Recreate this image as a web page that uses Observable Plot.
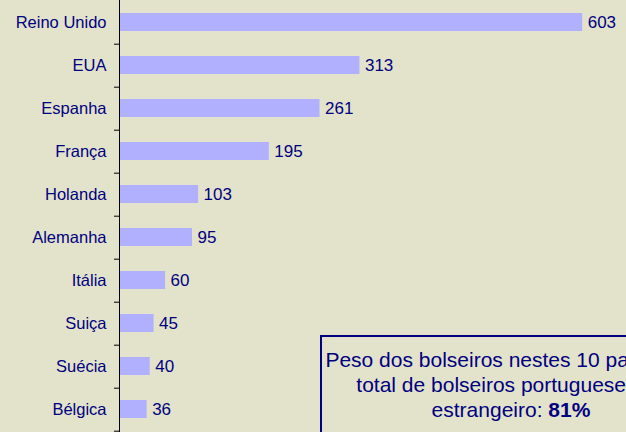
<!DOCTYPE html>
<html>
<head>
<meta charset="utf-8">
<script src="https://cdn.jsdelivr.net/npm/d3@7"></script>
<script src="https://cdn.jsdelivr.net/npm/@observablehq/plot@0.6"></script>
<style>
  html, body { margin: 0; padding: 0; background: #e3e3cb; overflow: hidden; }
  #wrap { position: relative; width: 626px; height: 432px; overflow: hidden; background: #e3e3cb; }
  #note {
    position: absolute; left: 320px; top: 335px; width: 378px;
    border: 2px solid #000080; background: #e3e3cb;
    font-family: "Liberation Sans", Arial, sans-serif; font-size: 21px; line-height: 25px;
    color: #000080; text-align: center; padding: 10px 0 12px 0;
  }
</style>
</head>
<body>
<div id="wrap"></div>
<script>
const countries = ["Reino Unido", "EUA", "Espanha", "França", "Holanda", "Alemanha", "Itália", "Suiça", "Suécia", "Bélgica"];
const values = [603, 313, 261, 195, 103, 95, 60, 45, 40, 36];
const noteLines = ["Peso dos bolseiros nestes 10 países no", "total de bolseiros portugueses no", "estrangeiro: "];
const noteValue = "81%";

const data = countries.map((c, i) => ({country: c, value: values[i]}));
const ink = "#000080";

const chart = Plot.plot({
  width: 626,
  height: 432,
  marginLeft: 119,
  marginRight: 0,
  marginTop: 0,
  marginBottom: 0,
  style: {background: "#e3e3cb", fontFamily: "'Liberation Sans', Arial, sans-serif"},
  x: {domain: [0, 660], axis: null},
  y: {domain: countries, range: [-2, 432], paddingInner: 0.585, paddingOuter: 0.2925, axis: null},
  marks: [
    Plot.barX(data, {y: "country", x: "value", fill: "#b0b0ff"}),
    Plot.text(data, {y: "country", x: "value", text: d => String(d.value), textAnchor: "start", dx: 5, fill: ink, fontSize: 17}),
    Plot.axisY({anchor: "left", label: null, tickSize: 0, tickPadding: 13, fontSize: 16.5, color: ink, fill: ink}),
    Plot.axisY(countries, {anchor: "left", label: null, tickSize: 5, text: null, dy: 21.7, stroke: "#000"}),
    Plot.ruleX([0], {stroke: "#000", strokeWidth: 1})
  ]
});

const wrap = document.getElementById("wrap");
wrap.appendChild(chart);
const note = document.createElement("div");
note.id = "note";
note.innerHTML = noteLines[0] + "<br>" + noteLines[1] + "<br>" + noteLines[2] + "<b>" + noteValue + "</b>";
wrap.appendChild(note);
</script>
</body>
</html>
